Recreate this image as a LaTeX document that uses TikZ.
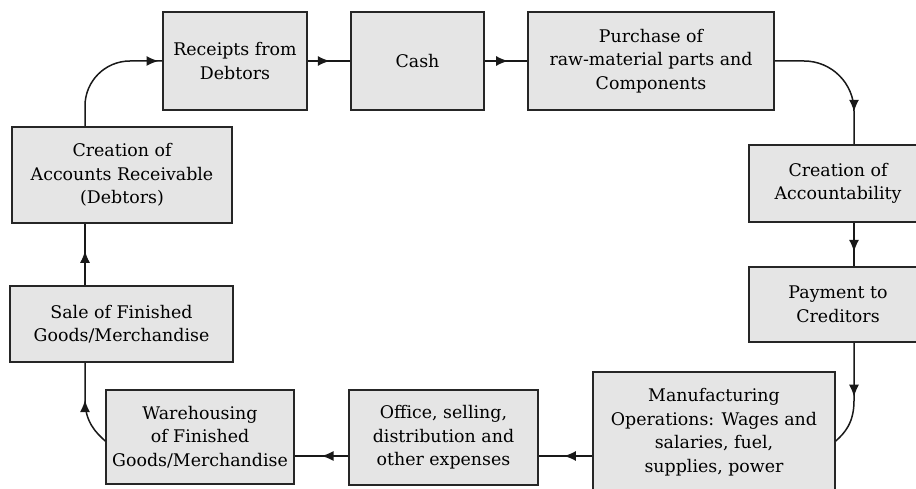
\documentclass[tikz,border=0pt]{standalone}
\usepackage{fontspec}
\setmainfont{DejaVu Serif}
\usepackage{tikz}
\usetikzlibrary{arrows.meta,decorations.markings}

\begin{document}
\begin{tikzpicture}[x=1pt, y=-1pt,
  blk/.style={draw=black!85, line width=1.5pt, fill=black!10, align=center, inner sep=0pt,
    font=\fontsize{17.4}{23.5}\selectfont},
  conn/.style={line width=1.5pt, draw=black!90},
  arrowat/.style={postaction={decorate}, decoration={markings,
    mark=at position #1 with {\arrow{Latex[length=12pt,width=10pt]}}}}]
\useasboundingbox (0,0) rectangle (916,489);
% lanes for the connectors
\coordinate (lx) at (85,0);
\coordinate (rx) at (854,0);
\coordinate (by) at (0,456);
% boxes, top row
\node[blk, minimum width=144pt, minimum height=98pt] (rec) at (235,61) {Receipts from\\Debtors};
\node[blk, minimum width=133pt, minimum height=98pt] (cash) at (417.5,61) {Cash};
\node[blk, minimum width=246pt, minimum height=98pt] (purch) at (651,61) {Purchase of\\raw-material parts and\\Components};
% right column
\node[blk, minimum width=178pt, minimum height=77pt] (acc) at (838,183.5) {Creation of\\Accountability};
\node[blk, minimum width=178pt, minimum height=75pt] (pay) at (838,304.5) {Payment to\\Creditors};
% bottom row
\node[blk, minimum width=242pt, minimum height=120pt] (manu) at (714,432) {Manufacturing\\Operations: Wages and\\salaries, fuel,\\supplies, power};
\node[blk, minimum width=189pt, minimum height=95pt] (office) at (443.5,437.5) {Office, selling,\\distribution and\\other expenses};
\node[blk, minimum width=188pt, minimum height=94pt] (ware) at (200,437) {Warehousing\\of Finished\\Goods/Merchandise};
% left column
\node[blk, minimum width=223pt, minimum height=76pt] (sale) at (121.5,324) {Sale of Finished\\Goods/Merchandise};
\node[blk, minimum width=220pt, minimum height=96pt] (car) at (122,175) {Creation of\\Accounts Receivable\\(Debtors)};
% connectors
\draw[conn, rounded corners=45pt, arrowat=0.97] (car.north -| lx) |- (rec.west);
\draw[conn, arrowat=0.52] (rec.east) -- (cash.west);
\draw[conn, arrowat=0.55] (cash.east) -- (purch.west);
\draw[conn, rounded corners=50pt, arrowat=0.77] (purch.east) -| (acc.north -| rx);
\draw[conn, arrowat=0.67] (acc.south -| rx) -- (pay.north -| rx);
\draw[conn, arrowat=0.52] (pay.south -| rx) -- ++(0,58) .. controls +(0,22) and +(9,-8) .. ([yshift=-9pt]manu.east);
\draw[conn, arrowat=0.53] (manu.west |- by) -- (office.east |- by);
\draw[conn, arrowat=0.5] (office.west |- by) -- (ware.east |- by);
\draw[conn, arrowat=0.56] ([yshift=-4pt]ware.west) .. controls +(-9,-8) and +(0,22) .. (85,400) -- (sale.south -| lx);
\draw[conn, arrowat=0.56] (sale.north -| lx) -- (car.south -| lx);
\end{tikzpicture}
\end{document}
